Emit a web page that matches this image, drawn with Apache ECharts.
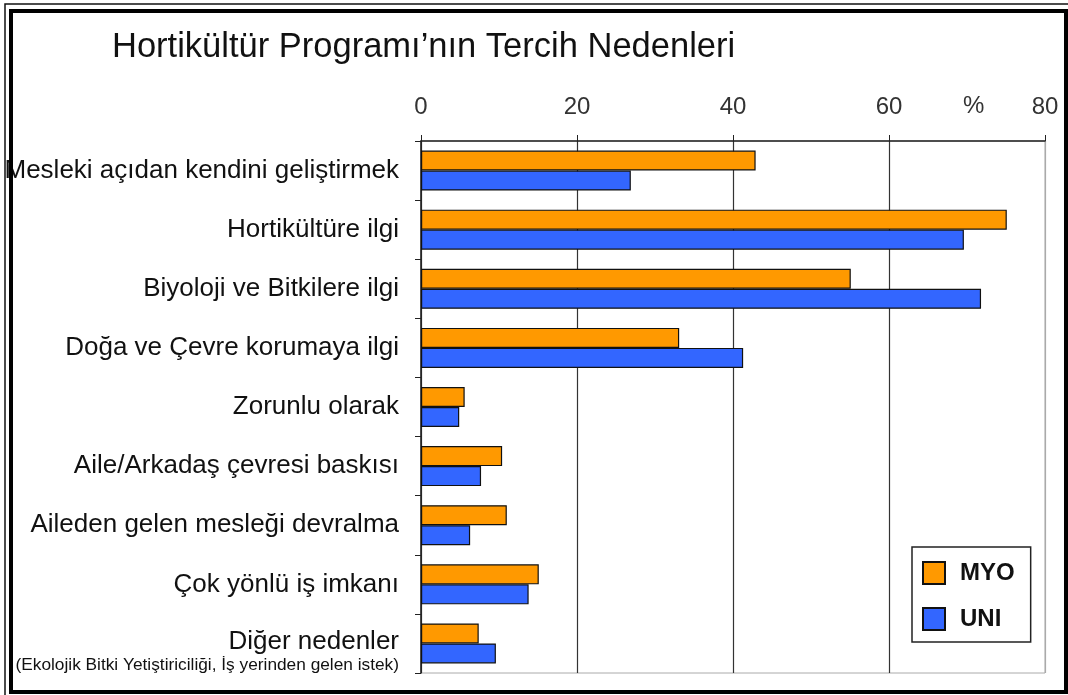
<!DOCTYPE html>
<html>
<head>
<meta charset="utf-8">
<script src="https://cdn.jsdelivr.net/npm/echarts@6/dist/echarts.min.js"></script>
<style>
  html, body { margin: 0; padding: 0; background: #fff; }
  #chart { width: 1068px; height: 695px; }
</style>
</head>
<body>
<div id="chart"></div>
<script>
// categories, top to bottom
var categories = [
  "Mesleki açıdan kendini geliştirmek",
  "Hortikültüre ilgi",
  "Biyoloji ve Bitkilere ilgi",
  "Doğa ve Çevre korumaya ilgi",
  "Zorunlu olarak",
  "Aile/Arkadaş çevresi baskısı",
  "Aileden gelen mesleği devralma",
  "Çok yönlü iş imkanı",
  "Diğer nedenler"
];
var otherNote = "(Ekolojik Bitki Yetiştiriciliği, İş yerinden gelen istek)";

var myo = [42.9, 75.1, 55.1, 33.1, 5.6, 10.4, 11.0, 15.1, 7.4];
var uni = [26.9, 69.6, 71.8, 41.3, 4.9, 7.7, 6.3, 13.8, 9.6];

var xTicks = [0, 20, 40, 60, 80];

var chart = echarts.init(document.getElementById("chart"));

var font = "'Liberation Sans', Arial, sans-serif";

var option = {
  animation: false,
  backgroundColor: "#fff",
  textStyle: { fontFamily: font },
  title: {
    text: "Hortikültür Programı’nın Tercih Nedenleri",
    left: 107,
    top: 25,
    textStyle: { fontSize: 34.5, fontWeight: "normal", color: "#111", fontFamily: font }
  },
  legend: {
    data: ["MYO", "UNI"],
    orient: "vertical",
    left: 912,
    top: 547,
    padding: [14, 16, 11, 10],
    itemGap: 22,
    itemWidth: 22,
    itemHeight: 22,
    icon: "rect",
    borderColor: "#222",
    borderWidth: 1.5,
    backgroundColor: "#fff",
    textStyle: { fontSize: 24, fontWeight: "bold", color: "#111", padding: [0, 0, 0, 10], fontFamily: font }
  },
  grid: {
    left: 421,
    right: 23,
    top: 141,
    bottom: 22,
    show: true,
    borderColor: "#aaa",
    borderWidth: 1
  },
  xAxis: {
    type: "value",
    position: "top",
    min: xTicks[0],
    max: xTicks[xTicks.length - 1],
    interval: 20,
    axisLine: { show: true, lineStyle: { color: "#222", width: 1.5 } },
    axisTick: { show: true, length: 6, lineStyle: { color: "#222" } },
    axisLabel: { fontSize: 24, color: "#333", margin: 22, fontFamily: font },
    splitLine: {
      show: true,
      lineStyle: { color: ["#333", "#333", "#333", "#333", "#aaa"], width: 1.2 }
    }
  },
  yAxis: {
    type: "category",
    inverse: true,
    data: categories,
    axisLine: { show: true, lineStyle: { color: "#222", width: 1.5 } },
    axisTick: { show: true, length: 6, lineStyle: { color: "#222" } },
    axisLabel: {
      fontSize: 26,
      color: "#111",
      margin: 22,
      fontFamily: font,
      formatter: function (v) {
        if (v === "Diğer nedenler") return "{s|}\n{a|" + v + "}\n{b|" + otherNote + "}";
        return v;
      },
      rich: {
        s: { fontSize: 10, lineHeight: 18 },
        a: { fontSize: 26, color: "#111", align: "right", lineHeight: 26, fontFamily: font },
        b: { fontSize: 17.3, color: "#111", align: "right", lineHeight: 22, fontFamily: font }
      }
    }
  },
  series: [
    {
      name: "MYO",
      type: "bar",
      data: myo,
      barWidth: 20,
      barGap: "0%",
      itemStyle: { color: "#ff9900", borderColor: "#111", borderWidth: 1.2 }
    },
    {
      name: "UNI",
      type: "bar",
      data: uni,
      barWidth: 20,
      barGap: "0%",
      itemStyle: { color: "#3366ff", borderColor: "#111", borderWidth: 1.2 }
    }
  ],
  graphic: [
    {
      type: "text",
      left: 963,
      top: 94,
      style: { text: "%", fontSize: 24, fill: "#333", fontFamily: font }
    },
    {
      type: "rect",
      z: 100,
      shape: { x: 5, y: 4, width: 1070, height: 700 },
      style: { fill: null, stroke: "#111", lineWidth: 1.5 }
    },
    {
      type: "rect",
      z: 100,
      shape: { x: 11, y: 11, width: 1055, height: 681 },
      style: { fill: null, stroke: "#000", lineWidth: 4 }
    }
  ]
};

chart.setOption(option);
</script>
</body>
</html>
